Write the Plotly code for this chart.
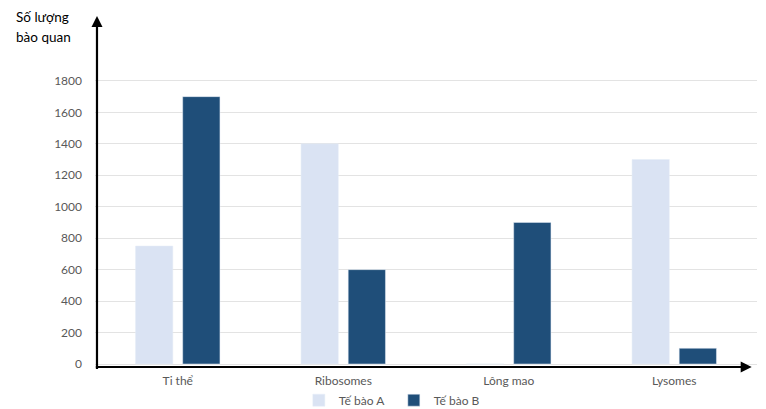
import plotly.graph_objects as go

# data
categories = ['Ti thể', 'Ribosomes', 'Lông mao', 'Lysomes']
cell_a = [750, 1400, 0, 1300]
cell_b = [1700, 600, 900, 100]
y_ticks = [0, 200, 400, 600, 800, 1000, 1200, 1400, 1600, 1800]

COLOR_A = '#dae3f3'
COLOR_B = '#1f4e79'
GREY = '#595959'
FONT = 'Lato, Liberation Sans, Arial, sans-serif'

fig = go.Figure()
fig.add_trace(go.Bar(name='Tế bào A', x=categories, y=cell_a, marker_color=COLOR_A))
fig.add_trace(go.Bar(name='Tế bào B', x=categories, y=cell_b, marker_color=COLOR_B))

# page body has an 8px margin, so the figure is a bit smaller than the window
fig.update_layout(
    width=758,
    height=401,
    margin=dict(l=87, r=9, t=10, b=42, autoexpand=False),
    paper_bgcolor='white',
    plot_bgcolor='white',
    barmode='group',
    bargap=0.43,
    bargroupgap=0.21,
    font=dict(family=FONT, size=12, color=GREY),
    showlegend=True,
    legend=dict(
        orientation='h',
        xref='container', yref='container',
        x=0.509, xanchor='center',
        y=0.022, yanchor='middle',
        font=dict(size=12, color=GREY),
        itemwidth=30,
        entrywidth=50,
        traceorder='normal',
    ),
    xaxis=dict(
        showline=False,
        showgrid=False,
        ticks='',
        ticklabelstandoff=5,
        tickfont=dict(size=12, color=GREY),
    ),
    yaxis=dict(
        range=[-19, 2200],
        tickvals=y_ticks,
        showgrid=True,
        gridcolor='#e3e3e3',
        gridwidth=1,
        zeroline=False,
        showline=False,
        ticks='',
        ticklabelstandoff=12,
        tickfont=dict(size=12, color=GREY),
    ),
)

# axis arrows
fig.add_annotation(
    xref='x domain', yref='y domain', axref='x domain', ayref='y domain',
    x=0.003, y=1.006, ax=0.003, ay=-0.01,
    showarrow=True, arrowhead=2, arrowsize=1, arrowwidth=2.2, arrowcolor='black', text='',
)
fig.add_annotation(
    xref='x domain', yref='y domain', axref='x domain', ayref='y domain',
    x=0.992, y=0.0, ax=-0.001, ay=0.0,
    showarrow=True, arrowhead=2, arrowsize=1, arrowwidth=2.2, arrowcolor='black', text='',
)

# y axis title, top-left, two lines
fig.add_annotation(
    xref='paper', yref='paper',
    x=-0.122, y=1.004, xanchor='left', yanchor='middle',
    text='Số lượng', showarrow=False,
    font=dict(family=FONT, size=13.5, color='black'),
)
fig.add_annotation(
    xref='paper', yref='paper',
    x=-0.122, y=0.946, xanchor='left', yanchor='middle',
    text='bào quan', showarrow=False,
    font=dict(family=FONT, size=13.5, color='black'),
)

fig.write_html("out.html")
